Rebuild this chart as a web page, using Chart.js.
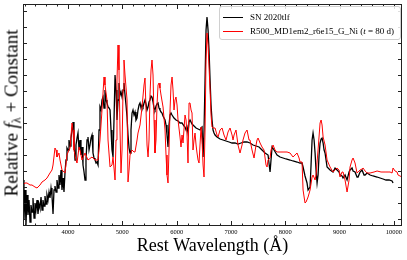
<!DOCTYPE html>
<html>
<head>
<meta charset="utf-8">
<script src="https://cdn.jsdelivr.net/npm/chart.js@4/dist/chart.umd.min.js"></script>
<style>
  html, body { margin: 0; padding: 0; background: #fff; }
  #wrap { position: relative; width: 407px; height: 260px; font-family: 'Liberation Serif', serif; }
  #spectrumCanvas { position: absolute; left: 0; top: 0; }
  #yLabel {
    position: absolute; left: 12px; top: 113px; white-space: nowrap;
    transform: translate(-50%, -50%) rotate(-90deg);
    font-size: 19px; color: #000; line-height: 1;
  }
  #yLabel sub { font-size: 12px; vertical-align: -3px; font-style: normal; }
  #legend {
    position: absolute; left: 219px; top: 6px; width: 180px; height: 32px;
    border: 1px solid #d0d0d0; border-radius: 3px; background: rgba(255,255,255,0.85);
    font-size: 9px; color: #000;
  }
  .row { position: absolute; left: 0; height: 12px; white-space: nowrap; }
  .swatch { position: absolute; left: 3px; top: 6px; width: 20px; height: 0; border-top: 1px solid; }
  .txt { position: absolute; left: 30px; top: 0; line-height: 12px; }
</style>
</head>
<body>
<div id="wrap">
  <canvas id="spectrumCanvas" width="407" height="260"></canvas>
  <div id="yLabel">Relative <i>f</i><sub>λ</sub> + Constant</div>
  <div id="legend">
    <div class="row" style="top:4px"><span class="swatch" style="border-color:#000"></span><span class="txt">SN 2020tlf</span></div>
    <div class="row" style="top:18px"><span class="swatch" style="border-color:#ff0000"></span><span class="txt">R500_MD1em2_r6e15_G_Ni (<i>t</i> = 80 d)</span></div>
  </div>
</div>
<script>
// --- data (rest wavelength in Angstrom, relative flux + offset) ---
const seriesNames = ['SN 2020tlf', 'R500_MD1em2_r6e15_G_Ni (t = 80 d)'];

const observedSpectrum = [
  [3170,4.6],[3188,0.6],[3207,3.6],[3225,0.1],[3244,3.1],[3262,1.1],[3281,2.6],[3299,0.4],[3317,2.1],[3336,1.4],
  [3354,2.8],[3373,0.8],[3391,2.3],[3409,1.6],[3428,2.6],[3446,1.2],[3465,2.2],[3483,1.8],[3502,2.9],[3520,1.6],
  [3538,2.6],[3557,2.0],[3575,3.0],[3594,2.2],[3612,3.1],[3631,2.6],[3649,3.4],[3667,2.8],[3686,3.8],[3704,3.0],
  [3723,1.2],[3741,3.6],[3759,4.0],[3778,3.4],[3796,4.6],[3815,3.8],[3833,5.1],[3852,4.1],[3870,5.6],[3888,3.6],
  [3907,4.8],[3925,3.4],[3944,5.4],[3962,6.6],[3980,7.8],[3999,7.6],[4017,8.6],[4036,8.0],[4054,8.8],[4073,9.6],
  [4091,10.4],[4109,8.6],[4128,6.6],[4146,8.1],[4165,8.8],[4183,9.3],[4202,7.6],[4220,8.6],[4238,7.1],[4257,7.9],
  [4275,6.1],[4294,5.4],[4312,4.6],[4330,6.6],[4349,8.6],[4367,8.9],[4386,7.6],[4404,8.1],[4423,8.8],[4441,9.1],
  [4459,7.3],[4478,6.8],[4496,6.6],[4515,6.3],[4533,6.4],[4552,6.1],[4570,9.6],[4588,11.9],[4607,11.6],[4625,12.6],
  [4644,12.9],[4662,11.8],[4680,13.6],[4699,12.6],[4717,12.3],[4736,11.9],[4754,11.8],[4773,11.6],[4791,9.6],[4809,7.6],
  [4828,6.9],[4846,10.6],[4865,15.1],[4883,13.6],[4901,10.6],[4920,12.6],[4938,14.3],[4957,13.1],[4975,13.4],[4994,12.9],
  [5012,13.6],[5030,14.3],[5049,13.1],[5067,12.1],[5086,10.9],[5104,9.1],[5123,7.8],[5141,7.3],[5159,9.6],[5178,11.3],
  [5196,11.6],[5215,11.1],[5233,11.4],[5251,10.6],[5270,10.8],[5288,11.6],[5307,12.1],[5325,12.3],[5344,11.8],[5362,12.1],
  [5380,11.9],[5399,12.3],[5417,12.6],[5436,12.2],[5454,11.6],[5473,11.9],[5491,12.4],[5509,12.6],[5528,13.0],[5546,12.9],
  [5565,12.4],[5583,11.8],[5601,11.6],[5620,12.0],[5638,12.2],[5657,12.3],[5675,11.8],[5693,11.6],[5712,11.4],[5730,11.3],
  [5749,11.0],[5767,10.8],[5786,10.6],[5804,10.1],[5822,9.1],[5841,7.9],[5859,10.1],[5878,11.1],[5896,11.3],[5915,11.1],
  [5951,10.8],[5988,10.6],[6025,10.5],[6062,10.3],[6099,10.3],[6136,10.0],[6154,9.9],[6173,9.6],[6191,9.9],[6209,9.3],
  [6228,10.4],[6246,10.6],[6283,10.2],[6320,10.0],[6357,9.8],[6394,9.7],[6430,9.6],[6449,9.8],[6467,9.9],[6486,6.9],
  [6504,9.6],[6523,14.6],[6541,19.6],[6559,20.9],[6578,19.6],[6596,17.6],[6615,14.6],[6633,12.1],[6651,10.6],[6670,9.6],
  [6688,9.3],[6707,9.1],[6743,8.9],[6799,8.7],[6854,8.6],[6909,8.5],[6965,8.4],[7020,8.3],[7075,8.3],[7130,8.2],
  [7186,8.3],[7241,8.4],[7296,8.4],[7351,8.3],[7407,8.1],[7462,8.0],[7517,7.9],[7572,7.6],[7628,7.3],[7683,7.1],
  [7720,5.4],[7757,7.9],[7794,7.6],[7849,7.1],[7904,6.9],[7959,6.8],[8014,6.7],[8088,6.6],[8143,6.5],[8217,6.4],
  [8272,6.3],[8309,6.3],[8328,5.9],[8364,5.0],[8401,4.3],[8420,3.6],[8457,3.9],[8475,6.1],[8494,8.6],[8512,9.3],
  [8531,8.6],[8549,7.3],[8567,5.6],[8586,4.3],[8604,5.1],[8623,7.1],[8641,8.3],[8660,8.7],[8678,8.8],[8697,8.3],
  [8715,7.6],[8733,7.3],[8770,5.9],[8825,5.6],[8880,5.4],[8917,5.8],[8954,5.6],[8991,5.4],[9009,5.1],[9046,5.0],
  [9064,4.8],[9101,5.1],[9138,4.6],[9175,5.4],[9193,5.6],[9230,5.8],[9249,5.5],[9285,5.4],[9322,4.9],[9341,4.9],
  [9377,5.4],[9414,5.6],[9451,5.1],[9470,5.1],[9507,5.3],[9562,5.1],[9617,5.0],[9691,4.9],[9746,4.8],[9801,4.7],
  [9856,4.6],[9912,4.6],[9967,4.5],[9985,4.3]
];

const modelSpectrum = [
  [3170,4.1],[3207,4.3],[3244,4.3],[3299,4.1],[3336,4.1],[3391,3.9],[3428,3.8],[3483,4.1],[3520,4.4],[3575,4.6],
  [3612,4.8],[3667,5.3],[3704,5.6],[3723,6.1],[3759,7.8],[3778,7.6],[3796,6.9],[3833,7.3],[3852,6.6],[3888,5.6],
  [3925,5.4],[3944,5.3],[3980,7.1],[4017,7.6],[4036,7.8],[4073,10.3],[4091,9.6],[4109,7.6],[4146,6.6],[4165,6.3],
  [4202,7.9],[4220,7.6],[4257,6.6],[4312,7.3],[4367,6.6],[4441,6.9],[4496,6.6],[4552,6.6],[4588,8.6],[4625,11.6],
  [4662,14.9],[4680,14.1],[4717,12.6],[4736,8.6],[4773,5.9],[4809,6.1],[4828,6.9],[4846,5.8],[4865,4.6],[4883,8.6],
  [4901,14.6],[4920,18.1],[4938,15.6],[4957,9.6],[4975,5.3],[4994,7.6],[5012,13.6],[5030,16.6],[5049,15.1],[5086,12.6],
  [5104,4.4],[5123,5.6],[5141,7.1],[5178,7.6],[5215,7.4],[5233,7.4],[5270,8.6],[5288,9.3],[5325,10.1],[5362,11.9],
  [5399,14.1],[5417,14.8],[5436,11.6],[5454,8.1],[5473,6.9],[5491,8.6],[5509,13.1],[5528,15.6],[5546,16.6],[5565,15.1],
  [5583,10.6],[5601,7.3],[5620,8.6],[5638,12.1],[5657,14.1],[5675,14.3],[5693,13.8],[5712,13.1],[5749,11.9],[5786,9.6],
  [5804,7.1],[5822,5.1],[5841,4.3],[5859,7.6],[5878,11.6],[5896,14.1],[5915,14.9],[5933,13.6],[5951,11.6],[5970,12.6],
  [5988,12.9],[6007,12.1],[6025,10.6],[6062,8.9],[6080,7.9],[6099,9.1],[6117,8.3],[6154,11.1],[6173,10.6],[6191,9.1],
  [6209,6.3],[6228,12.3],[6246,12.3],[6265,11.6],[6283,11.3],[6301,7.6],[6320,8.6],[6338,9.3],[6357,8.1],[6375,7.3],
  [6394,6.6],[6412,6.3],[6430,8.1],[6449,9.9],[6467,8.6],[6486,6.1],[6504,4.9],[6523,9.6],[6541,16.6],[6559,19.3],
  [6578,18.1],[6596,15.9],[6615,13.6],[6633,11.1],[6651,9.9],[6670,9.8],[6707,9.8],[6743,9.1],[6762,8.9],[6799,9.6],
  [6836,9.8],[6872,9.1],[6909,8.6],[6946,9.4],[6983,9.8],[7020,9.1],[7038,8.6],[7057,9.1],[7093,9.6],[7130,8.1],
  [7167,7.3],[7204,8.1],[7222,8.6],[7259,9.3],[7296,9.6],[7333,8.6],[7351,8.6],[7388,7.6],[7425,6.8],[7462,8.1],
  [7480,8.6],[7499,8.8],[7536,8.3],[7572,7.9],[7609,7.6],[7646,6.1],[7665,5.9],[7683,6.6],[7720,6.8],[7738,7.6],
  [7775,8.1],[7812,7.6],[7849,7.4],[7904,7.4],[7959,7.4],[8033,7.4],[8088,7.3],[8143,6.9],[8180,7.1],[8217,7.3],
  [8254,6.8],[8272,6.4],[8309,6.4],[8328,3.6],[8364,2.3],[8383,2.4],[8420,2.9],[8457,3.6],[8494,4.9],[8512,5.1],
  [8549,4.6],[8567,5.1],[8604,7.6],[8641,10.3],[8660,10.6],[8678,10.1],[8697,8.9],[8733,8.1],[8770,6.6],[8825,5.9],
  [8880,5.4],[8917,5.6],[8954,5.8],[8991,5.6],[9009,4.9],[9046,5.4],[9064,5.4],[9101,4.6],[9138,3.4],[9175,4.6],
  [9193,5.9],[9230,6.6],[9249,6.8],[9285,6.3],[9322,5.3],[9341,5.4],[9377,5.6],[9414,5.7],[9433,5.8],[9470,5.5],
  [9507,5.3],[9562,5.3],[9635,5.4],[9691,5.5],[9764,5.4],[9838,5.4],[9893,5.4],[9930,5.4],[9967,5.3],[9985,5.8],
  [10022,5.5],[10059,5.4],[10077,5.1],[10114,5.0],[10151,4.9],[10188,4.9]
];

const xTickLabels = [4000, 5000, 6000, 7000, 8000, 9000, 10000];
const yTickValues = [0.7, 2.3, 3.9, 5.5, 7.1, 8.7, 10.3, 11.9, 13.5, 15.1, 16.7, 18.3, 19.9, 21.5];
const X_MIN = 3170, X_MAX = 10150, Y_MIN = 0, Y_MAX = 22.2;

// draws the closed frame and inward-pointing ticks (matplotlib style)
const frameTicks = {
  id: 'frameTicks',
  afterDatasetsDraw(chart) {
    const { ctx, chartArea: a, scales } = chart;
    const xs = scales.x, ys = scales.y;
    ctx.save();
    ctx.strokeStyle = '#222';
    ctx.lineWidth = 1;
    ctx.beginPath();
    // minor x ticks every 200 A
    for (let v = 3200; v <= X_MAX; v += 200) {
      const px = Math.round(xs.getPixelForValue(v)) + 0.5;
      const len = xTickLabels.includes(v) ? 5 : 2.5;
      ctx.moveTo(px, a.bottom); ctx.lineTo(px, a.bottom - len);
      ctx.moveTo(px, a.top); ctx.lineTo(px, a.top + len);
    }
    yTickValues.forEach(v => {
      const py = Math.round(ys.getPixelForValue(v)) + 0.5;
      ctx.moveTo(a.left, py); ctx.lineTo(a.left + 4, py);
      ctx.moveTo(a.right, py); ctx.lineTo(a.right - 4, py);
    });
    ctx.stroke();
    ctx.strokeRect(Math.round(a.left) + 0.5, Math.round(a.top) + 0.5,
                   Math.round(a.right - a.left) - 1, Math.round(a.bottom - a.top) - 1);
    ctx.restore();
  }
};

const toPoints = arr => arr.map(p => ({ x: p[0], y: p[1] }));

const ctx = document.getElementById('spectrumCanvas').getContext('2d');
new Chart(ctx, {
  type: 'line',
  data: {
    datasets: [
      {
        label: seriesNames[1],
        data: toPoints(modelSpectrum),
        borderColor: '#ff0000',
        borderWidth: 1,
        pointRadius: 0,
        tension: 0,
        order: 0
      },
      {
        label: seriesNames[0],
        data: toPoints(observedSpectrum),
        borderColor: '#000000',
        borderWidth: 1.3,
        pointRadius: 0,
        tension: 0,
        order: 1
      }
    ]
  },
  options: {
    responsive: false,
    animation: false,
    parsing: false,
    layout: { padding: { left: 23, right: 5, top: 4, bottom: 0 } },
    plugins: { legend: { display: false }, tooltip: { enabled: false } },
    scales: {
      x: {
        type: 'linear',
        min: X_MIN,
        max: X_MAX,
        grid: { display: false, drawTicks: false },
        border: { display: false },
        afterBuildTicks: s => { s.ticks = xTickLabels.map(v => ({ value: v })); },
        afterFit: s => { s.height = 34; },
        ticks: {
          autoSkip: false,
          maxRotation: 0,
          padding: 2,
          color: '#000',
          font: { family: 'Liberation Serif', size: 6.5 },
          callback: v => String(v)
        },
        title: {
          display: true,
          text: 'Rest Wavelength (Å)',
          color: '#000',
          font: { family: 'Liberation Serif', size: 18 },
          padding: { top: 0, bottom: 3 }
        }
      },
      y: {
        type: 'linear',
        min: Y_MIN,
        max: Y_MAX,
        grid: { display: false, drawTicks: false },
        border: { display: false },
        ticks: { display: false },
        afterFit: s => { s.width = 0; }
      }
    }
  },
  plugins: [frameTicks]
});
</script>
</body>
</html>
